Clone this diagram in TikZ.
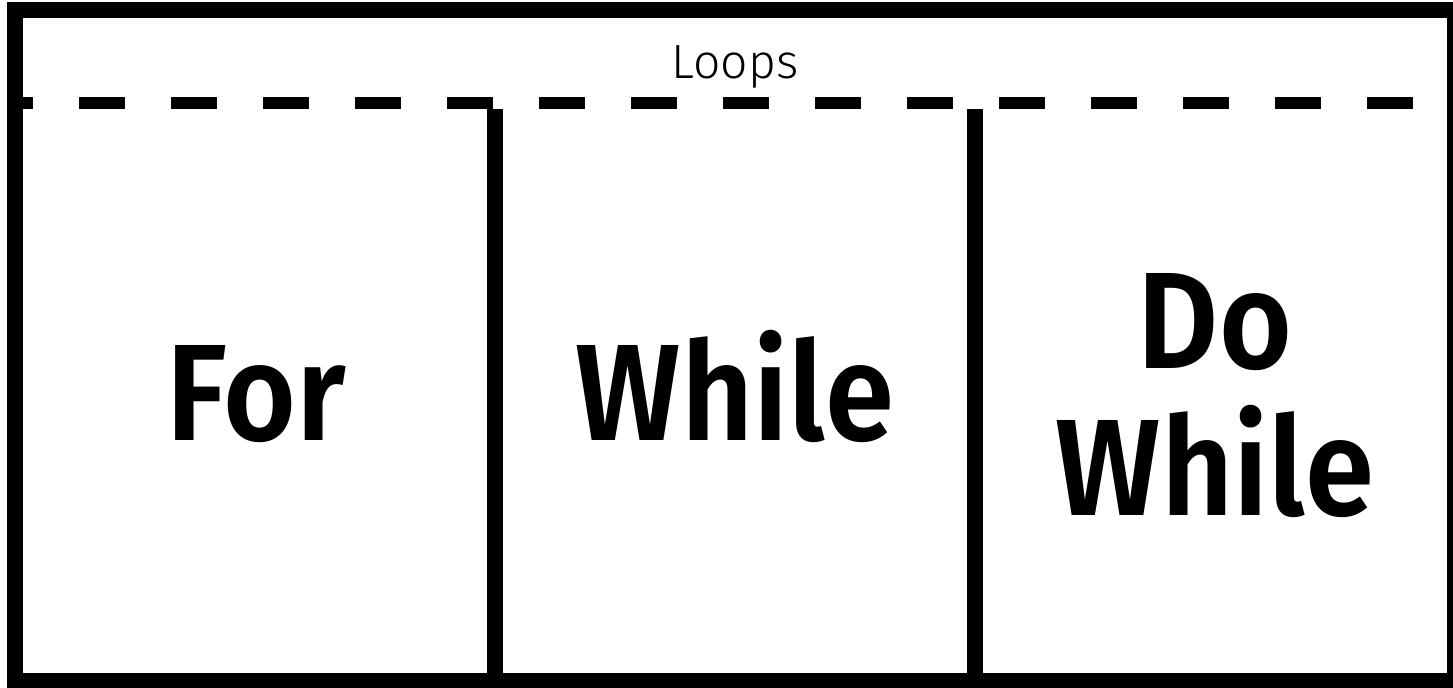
\documentclass[tikz,border=0pt]{standalone}
\usepackage{fontspec}
\setmainfont{Fira Sans}
\newfontfamily\loopsfont{Fira Sans Light}
\newfontfamily\bigfont{Fira Sans SemiBold}
\tikzset{
  frame/.style={line width=12pt, draw=black},
  divider/.style={line width=12pt, draw=black},
  dashline/.style={line width=9pt, draw=black, dash pattern=on 34.5pt off 34.5pt, dash phase=21pt},
  titletext/.style={font=\loopsfont\fontsize{36pt}{40pt}\selectfont, anchor=base, inner sep=0pt},
  bigtext/.style={font=\bigfont\fontsize{103pt}{110pt}\selectfont, anchor=base, inner sep=0pt, xscale=0.91, transform shape}
}
\begin{document}
\begin{tikzpicture}[x=0.75pt, y=-0.75pt]
\useasboundingbox (0,0) rectangle (1453,687);
% outer frame
\draw[frame] (15,10) rectangle (1455,681);
% dashed separator
\coordinate (dl) at (15,103);
\coordinate (dr) at (1413,103);
\draw[dashline] (dl) -- (dr);
% dividers
\coordinate (d1t) at (495,109);
\coordinate (d1b) at (495,681);
\coordinate (d2t) at (975,109);
\coordinate (d2b) at (975,681);
\draw[divider] (d1t) -- (d1b);
\draw[divider] (d2t) -- (d2b);
% texts
\node[titletext] (loops) at (735,78) {Loops};
\node[bigtext] (for) at (256,440) {For};
\node[bigtext] (while) at (735,440) {While};
\node[bigtext] (do) at (1215,368) {Do};
\node[bigtext] (dowhile) at (1215,515) {While};
\end{tikzpicture}
\end{document}
